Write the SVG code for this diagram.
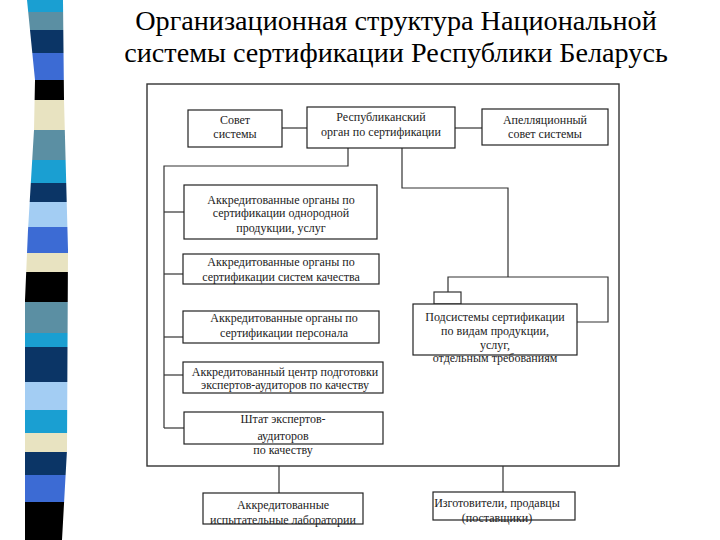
<svg xmlns="http://www.w3.org/2000/svg" width="720" height="540" viewBox="0 0 720 540">
<defs>
<style>
.box{fill:#fff;stroke:#222;stroke-width:1.2}
.ln{fill:none;stroke:#333;stroke-width:1.2}
.t{font-family:"Liberation Serif","Times New Roman",serif;font-size:12px;fill:#222;text-anchor:middle}
.title{font-family:"Liberation Serif","Times New Roman",serif;font-size:28.2px;fill:#000;text-anchor:middle}
</style>
<clipPath id="stripeClip">
<polygon points="27,0 63,0 64,100 68,250 67,450 62,540 25,540 25,300 28,230 34,130 35,80"/>
</clipPath>
</defs>
<rect width="720" height="540" fill="#fff"/>
<g id="stripe" clip-path="url(#stripeClip)">
<rect x="20" y="0" width="55" height="12" fill="#1a9fd2"/>
<rect x="20" y="12" width="55" height="18" fill="#5b8fa3"/>
<rect x="20" y="30" width="55" height="23" fill="#0b3566"/>
<rect x="20" y="53" width="55" height="27" fill="#3c6bd4"/>
<rect x="20" y="80" width="55" height="20" fill="#000"/>
<rect x="20" y="100" width="55" height="30" fill="#e8e3c1"/>
<rect x="20" y="130" width="55" height="30" fill="#5b8fa3"/>
<rect x="20" y="160" width="55" height="23" fill="#1a9fd2"/>
<rect x="20" y="183" width="55" height="19" fill="#0b3566"/>
<rect x="20" y="202" width="55" height="25" fill="#a3cdf3"/>
<rect x="20" y="227" width="55" height="26" fill="#3c6bd4"/>
<rect x="20" y="253" width="55" height="19" fill="#e8e3c1"/>
<rect x="20" y="272" width="55" height="30" fill="#000"/>
<rect x="20" y="302" width="55" height="31" fill="#5b8fa3"/>
<rect x="20" y="333" width="55" height="14" fill="#1a9fd2"/>
<rect x="20" y="347" width="55" height="35" fill="#0b3566"/>
<rect x="20" y="382" width="55" height="28" fill="#a3cdf3"/>
<rect x="20" y="410" width="55" height="23" fill="#1a9fd2"/>
<rect x="20" y="433" width="55" height="19" fill="#e8e3c1"/>
<rect x="20" y="452" width="55" height="23" fill="#0b3566"/>
<rect x="20" y="475" width="55" height="27" fill="#3c6bd4"/>
<rect x="20" y="502" width="55" height="38" fill="#000"/>
</g>
<g id="title">
<text class="title" x="396" y="30">Организационная структура Национальной</text>
<text class="title" x="396" y="62">системы сертификации Республики Беларусь</text>
</g>
<rect id="frame" x="147" y="84" width="472" height="382" fill="none" stroke="#333" stroke-width="1.4"/>
<g id="connectors">
<line class="ln" x1="282" y1="128" x2="307" y2="128"/>
<line class="ln" x1="455" y1="128" x2="482" y2="128"/>
<polyline class="ln" points="348,148 348,166 164,166 164,428"/>
<line class="ln" x1="164" y1="212" x2="184" y2="212"/>
<line class="ln" x1="164" y1="274" x2="183" y2="274"/>
<line class="ln" x1="164" y1="337" x2="183" y2="337"/>
<line class="ln" x1="164" y1="375" x2="183" y2="375"/>
<line class="ln" x1="164" y1="428" x2="184" y2="428"/>
<polyline class="ln" points="402,148 402,188 508,188 508,277"/>
<polyline class="ln" points="448,292 448,277 608,277 608,322 577,322"/>
<rect class="ln" x="434" y="292" width="27" height="12"/>
<line class="ln" x1="279" y1="466" x2="279" y2="493"/>
<line class="ln" x1="503" y1="466" x2="503" y2="492"/>
</g>
<g id="sovet">
<rect class="box" x="188" y="110" width="94" height="37"/>
<text class="t" x="235" y="124">Совет</text>
<text class="t" x="235" y="138">системы</text>
</g>
<g id="resp">
<rect class="box" x="307" y="107" width="148" height="41"/>
<text class="t" x="381" y="121">Республиканский</text>
<text class="t" x="381" y="136">орган по сертификации</text>
</g>
<g id="apel">
<rect class="box" x="482" y="109" width="126" height="36"/>
<text class="t" x="545" y="124">Апелляционный</text>
<text class="t" x="545" y="138">совет системы</text>
</g>
<g id="box1">
<rect class="box" x="184" y="185" width="193" height="54"/>
<text class="t" x="281" y="204">Аккредитованные органы по</text>
<text class="t" x="281" y="217">сертификации однородной</text>
<text class="t" x="281" y="232">продукции, услуг</text>
</g>
<g id="box2">
<rect class="box" x="183" y="254" width="196" height="30"/>
<text class="t" x="281" y="266">Аккредитованные органы по</text>
<text class="t" x="281" y="281">сертификации систем качества</text>
</g>
<g id="box3">
<rect class="box" x="183" y="311" width="196" height="32"/>
<text class="t" x="284" y="322">Аккредитованные органы по</text>
<text class="t" x="284" y="337">сертификации персонала</text>
</g>
<g id="box4">
<rect class="box" x="183" y="362" width="200" height="31"/>
<text class="t" x="285" y="376">Аккредитованный центр подготовки</text>
<text class="t" x="285" y="389">экспертов-аудиторов по качеству</text>
</g>
<g id="box5">
<rect class="box" x="184" y="412" width="199" height="32"/>
<text class="t" x="283" y="423">Штат экспертов-</text>
<text class="t" x="283" y="440">аудиторов</text>
<text class="t" x="283" y="454">по качеству</text>
</g>
<g id="podsys">
<rect class="box" x="413" y="304" width="164" height="51"/>
<text class="t" x="495" y="321">Подсистемы сертификации</text>
<text class="t" x="495" y="335">по видам продукции,</text>
<text class="t" x="495" y="349">услуг,</text>
<text class="t" x="495" y="362">отдельным требованиям</text>
</g>
<g id="labs">
<rect class="box" x="203" y="493" width="160" height="31"/>
<text class="t" x="283" y="509">Аккредитованные</text>
<text class="t" x="283" y="524">испытательные лаборатории</text>
</g>
<g id="makers">
<rect class="box" x="433" y="492" width="142" height="28"/>
<text class="t" x="497" y="507">Изготовители, продавцы</text>
<text class="t" x="497" y="522">(поставщики)</text>
</g>
</svg>
